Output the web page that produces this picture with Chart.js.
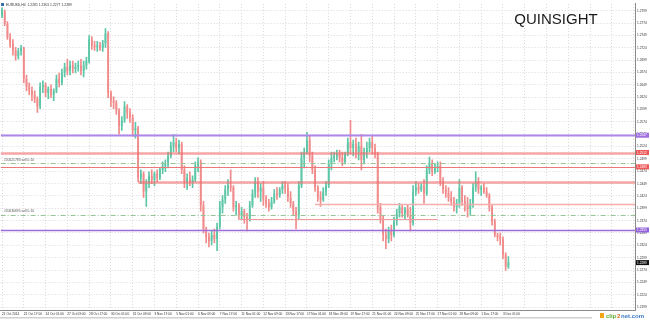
<!DOCTYPE html>
<html>
<head>
<meta charset="utf-8">
<script src="https://cdn.jsdelivr.net/npm/chart.js@4.4.1/dist/chart.umd.min.js"></script>
<style>
  html, body { margin: 0; padding: 0; background: #fff; }
  #box { width: 650px; height: 320px; }
</style>
</head>
<body>
<div id="box"><canvas id="chart" width="650" height="320"></canvas></div>
<script>
// =============================
// DATA (EURUSD H4)
// =============================
const symbolName = "EURUSD,H4";

const barOpen = [
  1.2789,1.2797,1.2773,1.2745,1.2733,1.2719,1.2707,1.2717,1.2723,1.2661,
  1.2645,1.2637,1.2629,1.2621,1.2605,1.2645,1.2649,1.2633,1.2641,1.2629,
  1.2637,1.2661,1.2653,1.2673,1.2685,1.2677,1.2689,1.2681,1.2685,1.2689,
  1.2677,1.2689,1.2697,1.2741,1.2729,1.2725,1.2729,1.2723,1.2733,1.2753,
  1.2633,1.2617,1.2613,1.2597,1.2565,1.2577,1.2605,1.2593,1.2583,1.2557,
  1.2561,1.2461,1.2469,1.2433,1.2449,1.2465,1.2457,1.2469,1.2461,1.2477,
  1.2485,1.2489,1.2505,1.2525,1.2533,1.2521,1.2529,1.2477,1.2453,1.2461,
  1.2453,1.2457,1.2485,1.2493,1.2405,1.2357,1.2341,1.2333,1.2345,1.2337,
  1.2361,1.2401,1.2417,1.2437,1.2445,1.2441,1.2401,1.2405,1.2385,1.2393,
  1.2381,1.2377,1.2405,1.2429,1.2453,1.2433,1.2441,1.2417,1.2409,1.2401,
  1.2413,1.2429,1.2425,1.2437,1.2445,1.2441,1.2421,1.2409,1.2393,1.2385,
  1.2445,1.2501,1.2513,1.2537,1.2505,1.2477,1.2441,1.2421,1.2417,1.2433,
  1.2445,1.2489,1.2501,1.2505,1.2509,1.2501,1.2493,1.2509,1.2533,1.2521,
  1.2529,1.2513,1.2525,1.2497,1.2513,1.2521,1.2533,1.2521,1.2509,1.2401,
  1.2377,1.2345,1.2337,1.2353,1.2345,1.2373,1.2389,1.2401,1.2389,1.2397,
  1.2385,1.2369,1.2433,1.2441,1.2437,1.2445,1.2429,1.2477,1.2489,1.2473,
  1.2481,1.2485,1.2453,1.2437,1.2429,1.2421,1.2413,1.2401,1.2409,1.2441,
  1.2413,1.2405,1.2397,1.2409,1.2441,1.2453,1.2437,1.2441,1.2433,1.2425,
  1.2401,1.2373,1.2345,1.2341,1.2337,1.2305,1.2281
];
const barHigh = [
  1.2805,1.2801,1.2777,1.2753,1.2741,1.2725,1.2723,1.2729,1.2725,1.2669,
  1.2653,1.2645,1.2637,1.2625,1.2653,1.2657,1.2653,1.2645,1.2649,1.2641,
  1.2669,1.2673,1.2681,1.2693,1.2701,1.2697,1.2697,1.2693,1.2697,1.2701,
  1.2697,1.2705,1.2749,1.2747,1.2737,1.2737,1.2735,1.2739,1.2763,1.2757,
  1.2637,1.2625,1.2617,1.2601,1.2585,1.2615,1.2609,1.2601,1.2589,1.2573,
  1.2565,1.2477,1.2473,1.2457,1.2473,1.2477,1.2473,1.2477,1.2481,1.2493,
  1.2497,1.2513,1.2533,1.2549,1.2541,1.2537,1.2533,1.2485,1.2469,1.2473,
  1.2465,1.2493,1.2501,1.2497,1.2413,1.2361,1.2349,1.2353,1.2357,1.2369,
  1.2413,1.2425,1.2445,1.2457,1.2477,1.2445,1.2413,1.2409,1.2401,1.2397,
  1.2389,1.2413,1.2437,1.2461,1.2461,1.2449,1.2453,1.2425,1.2417,1.2421,
  1.2437,1.2441,1.2441,1.2453,1.2453,1.2449,1.2433,1.2413,1.2401,1.2453,
  1.2513,1.2521,1.2553,1.2545,1.2513,1.2485,1.2445,1.2433,1.2441,1.2453,
  1.2497,1.2513,1.2513,1.2517,1.2517,1.2513,1.2513,1.2541,1.2577,1.2537,
  1.2541,1.2533,1.2549,1.2521,1.2533,1.2541,1.2545,1.2529,1.2513,1.2409,
  1.2385,1.2357,1.2361,1.2365,1.2381,1.2397,1.2409,1.2405,1.2401,1.2405,
  1.2401,1.2445,1.2453,1.2449,1.2449,1.2457,1.2485,1.2503,1.2497,1.2489,
  1.2493,1.2493,1.2461,1.2445,1.2441,1.2433,1.2421,1.2417,1.2457,1.2445,
  1.2425,1.2421,1.2417,1.2449,1.2473,1.2461,1.2445,1.2449,1.2441,1.2429,
  1.2405,1.2377,1.2349,1.2349,1.2341,1.2309,1.2301
];
const barLow = [
  1.2785,1.2769,1.2741,1.2725,1.2709,1.2699,1.2701,1.2709,1.2653,1.2637,
  1.2629,1.2617,1.2613,1.2593,1.2601,1.2633,1.2625,1.2621,1.2623,1.2617,
  1.2633,1.2645,1.2649,1.2665,1.2669,1.2669,1.2673,1.2673,1.2677,1.2669,
  1.2665,1.2681,1.2693,1.2721,1.2719,1.2717,1.2719,1.2717,1.2725,1.2623,
  1.2605,1.2601,1.2589,1.2549,1.2557,1.2573,1.2581,1.2573,1.2545,1.2541,
  1.2453,1.2449,1.2421,1.2403,1.2441,1.2449,1.2445,1.2453,1.2457,1.2469,
  1.2473,1.2481,1.2501,1.2513,1.2513,1.2509,1.2469,1.2441,1.2437,1.2445,
  1.2441,1.2453,1.2473,1.2393,1.2349,1.2329,1.2321,1.2325,1.2329,1.2313,
  1.2357,1.2389,1.2409,1.2425,1.2433,1.2393,1.2385,1.2377,1.2377,1.2369,
  1.2353,1.2373,1.2401,1.2421,1.2421,1.2413,1.2405,1.2401,1.2393,1.2397,
  1.2409,1.2417,1.2421,1.2429,1.2429,1.2413,1.2401,1.2385,1.2357,1.2377,
  1.2441,1.2481,1.2509,1.2493,1.2469,1.2433,1.2413,1.2403,1.2413,1.2425,
  1.2441,1.2477,1.2493,1.2497,1.2493,1.2485,1.2489,1.2505,1.2509,1.2505,
  1.2501,1.2497,1.2477,1.2489,1.2501,1.2513,1.2509,1.2501,1.2389,1.2369,
  1.2333,1.2317,1.2329,1.2333,1.2341,1.2365,1.2381,1.2381,1.2377,1.2381,
  1.2353,1.2365,1.2425,1.2429,1.2433,1.2409,1.2425,1.2469,1.2465,1.2469,
  1.2473,1.2445,1.2429,1.2421,1.2413,1.2405,1.2393,1.2389,1.2401,1.2405,
  1.2393,1.2381,1.2385,1.2401,1.2433,1.2429,1.2425,1.2429,1.2421,1.2393,
  1.2365,1.2341,1.2333,1.2325,1.2297,1.2273,1.2277
];
const barClose = [
  1.2801,1.2773,1.2745,1.2733,1.2719,1.2707,1.2717,1.2723,1.2661,1.2645,
  1.2637,1.2629,1.2621,1.2605,1.2645,1.2649,1.2633,1.2641,1.2629,1.2637,
  1.2661,1.2653,1.2673,1.2685,1.2677,1.2689,1.2681,1.2685,1.2689,1.2677,
  1.2689,1.2697,1.2741,1.2729,1.2725,1.2729,1.2723,1.2733,1.2753,1.2633,
  1.2617,1.2613,1.2597,1.2565,1.2577,1.2605,1.2593,1.2583,1.2557,1.2561,
  1.2461,1.2469,1.2433,1.2449,1.2465,1.2457,1.2469,1.2461,1.2477,1.2485,
  1.2489,1.2505,1.2525,1.2533,1.2521,1.2529,1.2477,1.2453,1.2461,1.2453,
  1.2457,1.2485,1.2493,1.2405,1.2357,1.2341,1.2333,1.2345,1.2337,1.2361,
  1.2401,1.2417,1.2437,1.2445,1.2441,1.2401,1.2405,1.2385,1.2393,1.2381,
  1.2377,1.2405,1.2429,1.2453,1.2433,1.2441,1.2417,1.2409,1.2401,1.2413,
  1.2429,1.2425,1.2437,1.2445,1.2441,1.2421,1.2409,1.2393,1.2385,1.2445,
  1.2501,1.2513,1.2537,1.2505,1.2477,1.2441,1.2421,1.2417,1.2433,1.2445,
  1.2489,1.2501,1.2505,1.2509,1.2501,1.2493,1.2509,1.2533,1.2521,1.2529,
  1.2513,1.2525,1.2497,1.2513,1.2521,1.2533,1.2521,1.2509,1.2401,1.2377,
  1.2345,1.2337,1.2353,1.2345,1.2373,1.2389,1.2401,1.2389,1.2397,1.2385,
  1.2369,1.2433,1.2441,1.2437,1.2445,1.2429,1.2477,1.2489,1.2473,1.2481,
  1.2485,1.2453,1.2437,1.2429,1.2421,1.2413,1.2401,1.2409,1.2441,1.2413,
  1.2405,1.2397,1.2409,1.2441,1.2453,1.2437,1.2441,1.2433,1.2425,1.2401,
  1.2373,1.2345,1.2341,1.2337,1.2305,1.2281,1.2289
];

// time axis labels, one every 8 bars
const dateLabels = [
  "21 Oct 2014", "22 Oct 17:00", "24 Oct 01:00", "27 Oct 09:00", "28 Oct 17:00",
  "30 Oct 01:00", "31 Oct 09:00", "3 Nov 17:00", "5 Nov 01:00", "6 Nov 09:00",
  "7 Nov 17:00", "11 Nov 01:00", "12 Nov 09:00", "13 Nov 17:00", "17 Nov 01:00",
  "18 Nov 09:00", "19 Nov 17:00", "21 Nov 01:00", "24 Nov 09:00", "25 Nov 17:00",
  "27 Nov 01:00", "28 Nov 09:00", "1 Dec 17:00", "3 Dec 01:00"
];

// price axis ticks
const priceTicks = [
  1.2799, 1.2774, 1.2749, 1.2724, 1.2699, 1.2674, 1.2649, 1.2624, 1.2599, 1.2574,
  1.2549, 1.2524, 1.2499, 1.2474, 1.2449, 1.2424, 1.2399, 1.2374, 1.2349, 1.2324,
  1.2299, 1.2274, 1.2249, 1.2224, 1.2199
];

// horizontal levels (price, first bar, last bar; null = chart edge)
const levelPrice = [1.2547, 1.2512, 1.2491, 1.2483, 1.2453, 1.2408, 1.2386, 1.2378, 1.2355];
const levelFrom  = [null,   null,   null,   null,   50,     115,    null,   87,     null];
const levelTo    = [null,   null,   null,   null,   null,   null,   null,   160,    null];

// open orders drawn on the chart
const orderTicket = ["#20621783 sell 0.10", "#20630695 sell 0.10"];
const orderPrice  = [1.2491, 1.2386];

// price tags on the right axis
const tagPrice = [1.2547, 1.2512, 1.2483, 1.2355, 1.2289];

// =============================
// STYLES
// =============================
const UP = "#5cc6a6";
const DOWN = "#f18b8b";
const GRID = "#d8d8d8";

const levelStyle = [
  { color: "#ad86ea", width: 1.8 },
  { color: "rgba(240,110,110,0.62)", width: 2.5 },
  { color: "#97c497", width: 1, dash: [5, 2, 1, 2] },
  { color: "#ec7878", width: 1 },
  { color: "rgba(240,110,110,0.62)", width: 2.5 },
  { color: "#f5aeae", width: 1.5 },
  { color: "#97c497", width: 1, dash: [5, 2, 1, 2] },
  { color: "#f29a9a", width: 1 },
  { color: "#9f6cdc", width: 1.5 }
];
const tagColor = ["#a070e0", "#ee5555", "#ee5555", "#9362d8", "#111111"];

// =============================
// BUILD
// =============================
const SLOTS = 233; // bars + empty shift on the right
const slotLabels = Array.from({ length: SLOTS }, (_, i) => String(i));

const bodies = barOpen.map((o, i) => [o, barClose[i]]);
const wicks = barLow.map((l, i) => [l, barHigh[i]]);
const barColor = barOpen.map((o, i) => (barClose[i] >= o ? UP : DOWN));

const fmt = v => v.toFixed(4);

const overlay = {
  id: "overlay",
  afterDatasetsDraw(chart) {
    const { ctx, chartArea: a, scales: { x, y } } = chart;
    ctx.save();
    ctx.beginPath();
    ctx.rect(a.left, a.top, a.right - a.left, a.bottom - a.top);
    ctx.clip();

    levelPrice.forEach((p, i) => {
      const st = levelStyle[i];
      const py = Math.round(y.getPixelForValue(p)) + 0.5;
      const x1 = levelFrom[i] == null ? a.left : x.getPixelForValue(levelFrom[i]);
      const x2 = levelTo[i] == null ? a.right : x.getPixelForValue(levelTo[i]);
      ctx.strokeStyle = st.color;
      ctx.lineWidth = st.width;
      ctx.setLineDash(st.dash || []);
      ctx.beginPath();
      ctx.moveTo(x1, py);
      ctx.lineTo(x2, py);
      ctx.stroke();
    });
    ctx.setLineDash([]);

    // order captions above their lines
    ctx.font = "3.4px 'Liberation Sans', Arial, sans-serif";
    ctx.fillStyle = "#555";
    ctx.textBaseline = "bottom";
    ctx.textAlign = "left";
    orderTicket.forEach((t, i) => {
      ctx.fillText(t, a.left + 3, y.getPixelForValue(orderPrice[i]) - 1.5);
    });
    ctx.restore();
  },
  afterDraw(chart) {
    const { ctx, chartArea: a, scales: { y } } = chart;
    ctx.save();

    // price tags on the axis
    ctx.font = "3.2px 'Liberation Sans', Arial, sans-serif";
    ctx.textBaseline = "middle";
    ctx.textAlign = "left";
    tagPrice.forEach((p, i) => {
      const py = y.getPixelForValue(p);
      ctx.fillStyle = tagColor[i];
      ctx.fillRect(a.right + 1, py - 2.5, 13, 5);
      ctx.fillStyle = "#fff";
      ctx.fillText(fmt(p), a.right + 2, py + 0.2);
    });

    // symbol line top left
    const n = barClose.length - 1;
    ctx.fillStyle = "#3a6fb0";
    ctx.fillRect(1, 3, 3, 3);
    ctx.fillStyle = "#333";
    ctx.font = "3.4px 'Liberation Sans', Arial, sans-serif";
    ctx.fillText(symbolName + "  " + [barOpen[n], barHigh[n], barLow[n], barClose[n]].map(fmt).join(" "), 6, 4.8);

    // watermark
    ctx.fillStyle = "#1a1a1a";
    ctx.font = "15px 'Liberation Sans', Arial, sans-serif";
    ctx.textAlign = "center";
    ctx.fillText("QUINSIGHT", 556, 20);

    // scroll bar + logo
    ctx.fillStyle = "#cfcfcf";
    ctx.fillRect(0, 317, 592, 1.5);
    ctx.font = "bold 6px 'Liberation Sans', Arial, sans-serif";
    ctx.textAlign = "left";
    ctx.fillStyle = "#f2a516";
    ctx.fillRect(600, 313, 4, 5);
    ctx.fillStyle = "#5aaa2a";
    ctx.fillText("clip", 606, 316);
    ctx.fillStyle = "#e07020";
    ctx.fillText("2", 617, 316);
    ctx.fillStyle = "#3a7ac8";
    ctx.fillText("net.com", 621, 316);
    ctx.restore();
  }
};

Chart.defaults.font.family = "'Liberation Sans', Arial, sans-serif";

new Chart(document.getElementById("chart"), {
  type: "bar",
  data: {
    labels: slotLabels,
    datasets: [
      {
        label: "body",
        data: bodies,
        backgroundColor: barColor,
        categoryPercentage: 1,
        barPercentage: 0.65,
        minBarLength: 1,
        grouped: false
      },
      {
        label: "wick",
        data: wicks,
        backgroundColor: barColor,
        barThickness: 1,
        grouped: false
      }
    ]
  },
  options: {
    responsive: false,
    animation: false,
    layout: { padding: 0 },
    plugins: {
      legend: { display: false },
      tooltip: { enabled: false },
      title: { display: false }
    },
    scales: {
      x: {
        type: "category",
        offset: true,
        afterFit: s => { s.height = 10; },
        grid: {
          offset: false,
          drawTicks: false,
          color: c => (c.index % 8 === 0 ? GRID : "rgba(0,0,0,0)")
        },
        border: { display: true, color: "#8a8a8a", dash: [1, 2] },
        ticks: {
          autoSkip: false,
          maxRotation: 0,
          minRotation: 0,
          align: "start",
          padding: 2,
          color: "#333",
          font: { size: 3.2 },
          callback: (v, i) => (i % 8 === 0 && dateLabels[i / 8]) ? dateLabels[i / 8] : ""
        }
      },
      y: {
        type: "linear",
        position: "right",
        min: 1.2193,
        max: 1.2813,
        afterFit: s => { s.width = 15; },
        afterBuildTicks: s => { s.ticks = priceTicks.map(v => ({ value: v })); },
        grid: { color: GRID, drawTicks: false },
        border: { display: true, color: "#8a8a8a", dash: [1, 2] },
        ticks: {
          padding: 2,
          color: "#333",
          font: { size: 3.2 },
          callback: v => fmt(v)
        }
      }
    }
  },
  plugins: [overlay]
});
</script>
</body>
</html>
